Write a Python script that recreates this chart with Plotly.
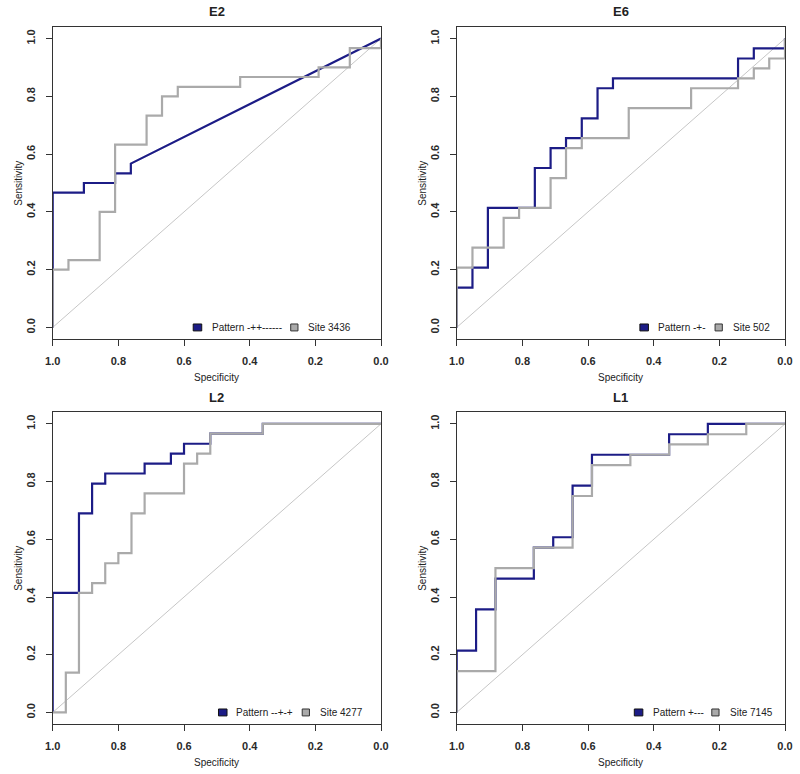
import plotly.graph_objects as go

# ---------------- data (ROC step corners: specificity, sensitivity) ----------------
panel_titles = ["E2", "E6", "L2", "L1"]
pattern_names = ["Pattern -++------", "Pattern -+-", "Pattern --+-+", "Pattern +---"]
site_names = ["Site 3436", "Site 502", "Site 4277", "Site 7145"]

e2_pattern_spec = [1.0, 1.0, 0.905, 0.810, 0.762]
e2_pattern_sens = [0.0, 0.467, 0.500, 0.533, 0.567]
e2_pattern_tail_spec = [0.0]   # straight (tied) segment to the corner
e2_pattern_tail_sens = [1.0]
e2_site_spec = [1.0, 1.0, 0.952, 0.857, 0.810, 0.714, 0.667, 0.619, 0.429, 0.190, 0.095, 0.0, 0.0]
e2_site_sens = [0.0, 0.200, 0.233, 0.400, 0.633, 0.733, 0.800, 0.833, 0.867, 0.900, 0.967, 0.967, 1.0]

e6_pattern_spec = [1.0, 1.0, 0.952, 0.905, 0.762, 0.714, 0.667, 0.619, 0.571, 0.524, 0.143, 0.095, 0.0, 0.0]
e6_pattern_sens = [0.0, 0.138, 0.207, 0.414, 0.552, 0.621, 0.655, 0.724, 0.828, 0.862, 0.931, 0.966, 0.966, 1.0]
e6_site_spec = [1.0, 1.0, 0.952, 0.857, 0.810, 0.714, 0.667, 0.619, 0.476, 0.286, 0.143, 0.095, 0.048, 0.0, 0.0]
e6_site_sens = [0.0, 0.207, 0.276, 0.379, 0.414, 0.517, 0.621, 0.655, 0.759, 0.828, 0.862, 0.897, 0.931, 0.931, 1.0]

l2_pattern_spec = [1.0, 1.0, 0.92, 0.88, 0.84, 0.72, 0.64, 0.60, 0.52, 0.36, 0.0]
l2_pattern_sens = [0.0, 0.414, 0.690, 0.793, 0.828, 0.862, 0.897, 0.931, 0.966, 1.0, 1.0]
l2_site_spec = [1.0, 0.96, 0.92, 0.88, 0.84, 0.80, 0.76, 0.72, 0.60, 0.56, 0.52, 0.36, 0.0]
l2_site_sens = [0.0, 0.138, 0.414, 0.448, 0.517, 0.552, 0.690, 0.759, 0.862, 0.897, 0.966, 1.0, 1.0]

l1_pattern_spec = [1.0, 1.0, 0.941, 0.882, 0.765, 0.706, 0.647, 0.588, 0.353, 0.235, 0.0]
l1_pattern_sens = [0.0, 0.214, 0.357, 0.464, 0.571, 0.607, 0.786, 0.893, 0.964, 1.0, 1.0]
l1_site_spec = [1.0, 1.0, 0.882, 0.765, 0.647, 0.588, 0.471, 0.353, 0.235, 0.118, 0.0]
l1_site_sens = [0.0, 0.143, 0.500, 0.571, 0.750, 0.857, 0.893, 0.929, 0.964, 1.0, 1.0]

tick_vals = [0.0, 0.2, 0.4, 0.6, 0.8, 1.0]
tick_text = ["0.0", "0.2", "0.4", "0.6", "0.8", "1.0"]
diag_spec = [1.0, 0.0]
diag_sens = [0.0, 1.0]

# ---------------- styling ----------------
NAVY = "#1c1c86"
GRAY = "#aaaaaa"
DIAG = "#c6c6c6"
AXC = "#333333"
FONT = "Liberation Sans, Arial, sans-serif"

W, H = 800, 774


def px_x(X):
    return X / W


def px_y(Y):
    return 1 - Y / H


def step_path(spec, sens, tail_spec=(), tail_sens=()):
    xs, ys = [spec[0]], [sens[0]]
    for i in range(1, len(spec)):
        xs += [spec[i], spec[i]]
        ys += [sens[i - 1], sens[i]]
    xs += list(tail_spec)
    ys += list(tail_sens)
    return xs, ys


panels = [
    (step_path(e2_pattern_spec, e2_pattern_sens, e2_pattern_tail_spec, e2_pattern_tail_sens),
     step_path(e2_site_spec, e2_site_sens)),
    (step_path(e6_pattern_spec, e6_pattern_sens), step_path(e6_site_spec, e6_site_sens)),
    (step_path(l2_pattern_spec, l2_pattern_sens), step_path(l2_site_spec, l2_site_sens)),
    (step_path(l1_pattern_spec, l1_pattern_sens), step_path(l1_site_spec, l1_site_sens)),
]

x_doms = [[px_x(52.7), px_x(381)], [px_x(456.7), px_x(785)]]
y_doms = [[px_y(339), px_y(27)], [px_y(724), px_y(412.3)]]
pos = [(0, 0), (1, 0), (0, 1), (1, 1)]

# legend layout (fractions of panel width): blue square, text1, gray square, text2
legend_pos = [
    (0.428, 0.479, 0.725, 0.772),
    (0.558, 0.607, 0.787, 0.835),
    (0.505, 0.553, 0.760, 0.809),
    (0.541, 0.591, 0.777, 0.827),
]

fig = go.Figure()
layout = dict(
    width=W, height=H, margin=dict(l=0, r=0, t=0, b=0, autoexpand=False),
    paper_bgcolor="white", plot_bgcolor="white", showlegend=False,
    font=dict(family=FONT, color=AXC),
)
annotations, shapes = [], []

for k, ((pat_x, pat_y), (site_x, site_y)) in enumerate(panels):
    n = "" if k == 0 else str(k + 1)
    xa, ya = "x" + n, "y" + n
    cx, cy = pos[k]
    fig.add_trace(go.Scatter(x=diag_spec, y=diag_sens, mode="lines", xaxis=xa, yaxis=ya,
                             line=dict(color=DIAG, width=1), hoverinfo="skip"))
    fig.add_trace(go.Scatter(x=pat_x, y=pat_y, mode="lines", xaxis=xa, yaxis=ya,
                             line=dict(color=NAVY, width=2.2), name=pattern_names[k]))
    fig.add_trace(go.Scatter(x=site_x, y=site_y, mode="lines", xaxis=xa, yaxis=ya,
                             line=dict(color=GRAY, width=2.2), name=site_names[k]))

    common = dict(showline=True, mirror=True, linecolor=AXC, linewidth=1, showgrid=False,
                  zeroline=False, ticks="outside", ticklen=6, tickcolor=AXC, tickwidth=1,
                  tickvals=tick_vals, ticktext=tick_text,
                  tickfont=dict(family=FONT, size=11, color="#2a2a2a", weight="bold"))
    layout["xaxis" + n] = dict(common, domain=x_doms[cx], range=[1.0, 0.0], anchor=ya,
                               ticklabelstandoff=6)
    layout["yaxis" + n] = dict(common, domain=y_doms[cy], range=[-0.04, 1.04], anchor=xa,
                               tickangle=-90, ticklabelstandoff=6)

    xd, yd = xa + " domain", ya + " domain"
    annotations.append(dict(text="<b>" + panel_titles[k] + "</b>", xref=xd, yref=yd, x=0.5, y=1,
                            yanchor="middle", yshift=15, showarrow=False,
                            font=dict(family=FONT, size=13, color="#222")))
    annotations.append(dict(text="Sensitivity", xref=xd, yref=yd, x=0, y=0.5, xshift=-35,
                            textangle=-90, showarrow=False, xanchor="center",
                            font=dict(family=FONT, size=10, color="#222")))
    annotations.append(dict(text="Specificity", xref=xd, yref=yd, x=0.5, y=0, yshift=-38,
                            yanchor="middle", showarrow=False,
                            font=dict(family=FONT, size=10, color="#222")))

    b0, t1, g0, t2 = legend_pos[k]
    sq = 0.026
    shapes.append(dict(type="rect", xref=xd, yref=ya, x0=b0, x1=b0 + sq, y0=-0.012, y1=0.012,
                       fillcolor=NAVY, line=dict(color="#111", width=1)))
    shapes.append(dict(type="rect", xref=xd, yref=ya, x0=g0, x1=g0 + sq * 0.85, y0=-0.012, y1=0.012,
                       fillcolor=GRAY, line=dict(color="#333", width=1)))
    annotations.append(dict(text=pattern_names[k], xref=xd, yref=ya, x=t1, y=0, xanchor="left",
                            yanchor="middle", showarrow=False,
                            font=dict(family=FONT, size=10, color="#222")))
    annotations.append(dict(text=site_names[k], xref=xd, yref=ya, x=t2, y=0, xanchor="left",
                            yanchor="middle", showarrow=False,
                            font=dict(family=FONT, size=10, color="#222")))

layout["annotations"] = annotations
layout["shapes"] = shapes
fig.update_layout(**layout)
fig.write_html("out.html", config={"displayModeBar": False},
               post_script="document.body.style.margin='0px';document.body.style.overflow='hidden';")
